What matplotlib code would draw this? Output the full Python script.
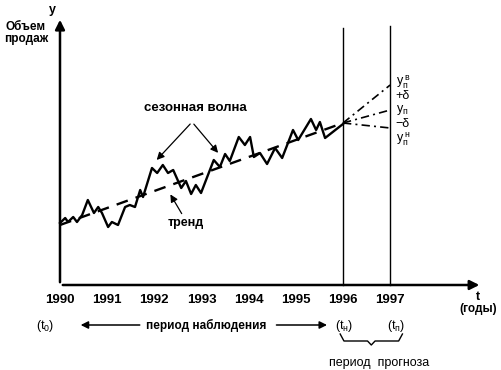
import numpy as np
import matplotlib
matplotlib.use("Agg")
import matplotlib.pyplot as plt

plt.rcParams['font.family'] = ['Liberation Sans', 'DejaVu Sans']
plt.rcParams['mathtext.fontset'] = 'custom'
plt.rcParams['mathtext.rm'] = 'Liberation Sans'
plt.rcParams['mathtext.it'] = 'Liberation Sans'
plt.rcParams['mathtext.bf'] = 'Liberation Sans:bold'

# observed sales (seasonal wave), time in years
t_obs = [1990.00, 1990.11, 1990.17, 1990.28, 1990.36, 1990.47, 1990.59, 1990.72,
         1990.81, 1990.89, 1991.02, 1991.10, 1991.23, 1991.38, 1991.48, 1991.59,
         1991.70, 1991.76, 1991.95, 1992.06, 1992.18, 1992.29, 1992.40, 1992.57,
         1992.67, 1992.78, 1992.88, 1992.99, 1993.26, 1993.39, 1993.50, 1993.60,
         1993.79, 1993.92, 1994.03, 1994.11, 1994.24, 1994.39, 1994.56, 1994.71,
         1994.94, 1995.05, 1995.32, 1995.43, 1995.51, 1995.62, 1996.00]
sales = [6.2, 6.7, 6.3, 6.8, 6.3, 7.0, 8.5, 7.2,
         7.8, 7.2, 5.8, 6.3, 6.0, 7.8, 8.0, 7.8,
         9.5, 8.8, 11.7, 11.2, 12.0, 11.2, 11.5, 9.7,
         10.4, 9.1, 10.0, 9.2, 12.5, 11.8, 13.1, 12.4,
         14.8, 14.0, 14.8, 12.8, 13.2, 12.1, 13.7, 12.7,
         15.5, 14.5, 16.6, 15.5, 16.3, 14.7, 16.1]

# trend and forecast
trend_t = [1990.0, 1996.0]
trend_y = [6.0, 16.2]
fc_t = [1996.0, 1997.0]
fc_upper = [16.2, 20.0]
fc_mid = [16.2, 17.5]
fc_lower = [16.2, 15.7]

years = [1990, 1991, 1992, 1993, 1994, 1995, 1996, 1997]

fig = plt.figure(figsize=(5.02, 3.70), dpi=100)
ax = fig.add_axes([0, 0, 1, 1])
ax.set_xlim(1988.728, 1999.371)
ax.set_ylim(-8.5, 28.5)
ax.axis('off')

# axes with arrows
arr = dict(arrowstyle='-|>', color='black', lw=1.8, mutation_scale=14)
ax.annotate('', xy=(1998.95, 0), xytext=(1990, 0), arrowprops=arr)
ax.annotate('', xy=(1990, 26.8), xytext=(1990, 0), arrowprops=arr)

# forecast boundaries
ax.plot([1996, 1996], [0, 25.7], color='black', lw=1.0)
ax.plot([1997, 1997], [0, 25.9], color='black', lw=1.0)

ax.plot(t_obs, sales, color='black', lw=1.7)
ax.plot(trend_t, trend_y, color='black', lw=1.7, dashes=(5, 3.5))
for fy in (fc_upper, fc_mid, fc_lower):
    ax.plot(fc_t, fy, color='black', lw=1.2, dashes=(5, 2.5, 1.2, 2.5))

bold = dict(fontweight='bold', color='black')
for yr in years:
    ax.text(yr, -1.5, str(yr), ha='center', va='center', fontsize=9.5, **bold)

ax.text(1989.83, 27.5, 'y', ha='center', va='center', fontsize=9, **bold)
ax.text(1989.28, 25.2, 'Объем\nпродаж', ha='center', va='center', fontsize=8.5,
        linespacing=1.1, **bold)
ax.text(1998.86, -1.2, 't', ha='center', va='center', fontsize=9, **bold)
ax.text(1998.86, -2.4, '(годы)', ha='center', va='center', fontsize=8.5, **bold)

# seasonal wave annotation
ax.text(1992.86, 17.7, 'сезонная волна', ha='center', va='center', fontsize=9.5, **bold)
warr = dict(arrowstyle='-|>', color='black', lw=0.9, mutation_scale=11)
ax.annotate('', xy=(1992.01, 12.3), xytext=(1992.80, 16.3), arrowprops=warr)
ax.annotate('', xy=(1993.39, 13.0), xytext=(1992.80, 16.3), arrowprops=warr)

ax.text(1992.67, 6.2, 'тренд', ha='center', va='center', fontsize=9, **bold)
ax.annotate('', xy=(1992.31, 9.3), xytext=(1992.61, 6.9), arrowprops=warr)

# forecast labels
lab = dict(ha='left', va='center', fontsize=9)
ax.text(1997.12, 20.3, r'$\mathrm{y_п^{\ в}}$', **lab)
ax.text(1997.12, 18.9, '+δ', **lab)
ax.text(1997.12, 17.5, r'$\mathrm{y_п}$', **lab)
ax.text(1997.12, 16.1, '−δ', **lab)
ax.text(1997.12, 14.6, r'$\mathrm{y_п^{\ н}}$', **lab)

# observation period
ax.text(1989.68, -4.1, r'$\mathrm{(t_0)}$', ha='center', va='center', fontsize=9)
ax.text(1993.10, -4.0, 'период наблюдения', ha='center', va='center', fontsize=8.5, **bold)
parr = dict(arrowstyle='-|>', color='black', lw=1.1, mutation_scale=11)
ax.annotate('', xy=(1990.38, -4.0), xytext=(1991.75, -4.0), arrowprops=parr)
ax.annotate('', xy=(1995.72, -4.0), xytext=(1994.53, -4.0), arrowprops=parr)
ax.text(1996.02, -4.1, r'$\mathrm{(t_н)}$', ha='center', va='center', fontsize=9)
ax.text(1997.12, -4.1, r'$\mathrm{(t_п)}$', ha='center', va='center', fontsize=9)

# brace under the forecast period
bx = [1995.94, 1996.02, 1996.52, 1996.60, 1996.68, 1997.18, 1997.26]
by = [-4.9, -5.6, -5.6, -6.0, -5.6, -5.6, -4.9]
ax.plot(bx, by, color='black', lw=1.0)
ax.text(1996.77, -7.8, 'период  прогноза', ha='center', va='center', fontsize=9)

fig.savefig('out.png', dpi=100)
